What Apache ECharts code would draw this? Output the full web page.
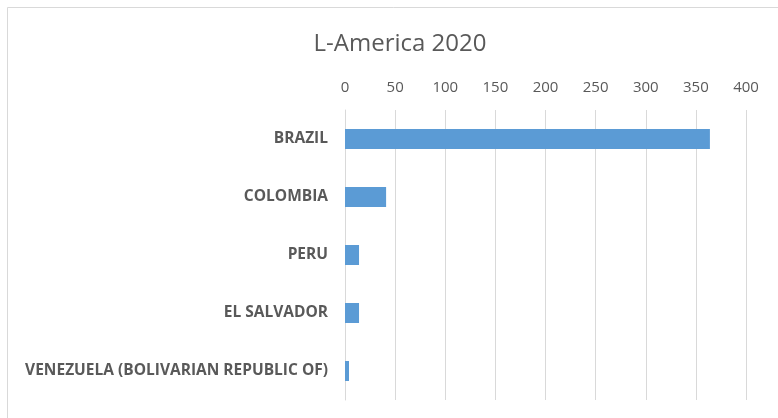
<!DOCTYPE html>
<html>
<head>
<meta charset="utf-8">
<script src="https://cdn.jsdelivr.net/npm/echarts@6/dist/echarts.min.js"></script>
<style>
html,body{margin:0;padding:0;background:#fff;}
#chart{width:778px;height:418px;}
</style>
</head>
<body>
<div id="chart"></div>
<script>
const categories = ["BRAZIL", "COLOMBIA", "PERU", "EL SALVADOR", "VENEZUELA (BOLIVARIAN REPUBLIC OF)"];
const values = [364, 41, 14, 14, 4];
const xTicks = [0, 50, 100, 150, 200, 250, 300, 350, 400];

const chart = echarts.init(document.getElementById('chart'));
chart.setOption({
  animation: false,
  backgroundColor: '#fff',
  title: {
    text: 'L-America 2020',
    left: 395,
    textAlign: 'center',
    top: 27,
    textStyle: {fontFamily: 'Open Sans', fontSize: 24, fontWeight: 'normal', color: '#595959'}
  },
  graphic: [{
    type: 'rect',
    shape: {x: 7.5, y: 7.5, width: 800, height: 450},
    style: {fill: 'none', stroke: '#d9d9d9', lineWidth: 1},
    silent: true
  }],
  grid: {left: 345, right: 32, top: 110, bottom: 18, containLabel: false},
  xAxis: {
    type: 'value',
    position: 'top',
    min: xTicks[0],
    max: xTicks[xTicks.length - 1],
    interval: xTicks[1] - xTicks[0],
    axisLine: {show: false},
    axisTick: {show: false},
    axisLabel: {color: '#595959', fontFamily: 'Open Sans', fontSize: 15, margin: 15},
    splitLine: {lineStyle: {color: '#d9d9d9', width: 1}}
  },
  yAxis: {
    type: 'category',
    data: categories,
    inverse: true,
    axisLine: {show: true, lineStyle: {color: '#d9d9d9'}},
    axisTick: {show: false},
    axisLabel: {color: '#595959', fontFamily: 'Open Sans', fontWeight: 'bold', fontSize: 15.5, margin: 17}
  },
  series: [{
    type: 'bar',
    data: values,
    barWidth: 20,
    itemStyle: {color: '#5B9BD5'}
  }]
});
</script>
</body>
</html>
